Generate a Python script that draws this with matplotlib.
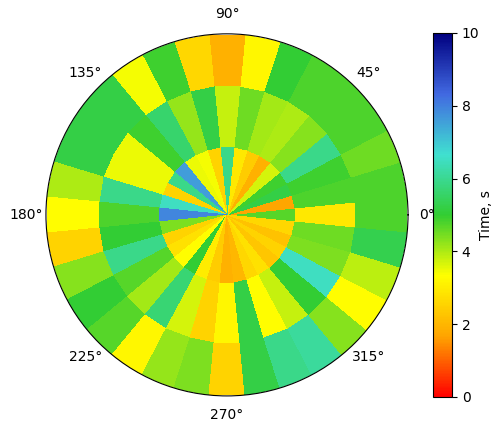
import numpy as np
import matplotlib
matplotlib.use("Agg")
import matplotlib.pyplot as plt
from matplotlib.colors import LinearSegmentedColormap

# 32 sectors, centred on multiples of 11.25 deg, counter-clockwise from 0 deg
n_sectors = 32
ring_edges = [0.0, 0.376, 0.713, 1.0]

inner = [4.7, 1.7, 5.2, 4.9, 3.7, 1.9, 2.4, 2.9, 5.9, 2.5, 3.4, 3.5, 7.6, 5.9, 2.5, 6.5,
         7.9, 4.4, 2.5, 2.8, 3.3, 5.0, 3.0, 2.4, 1.9, 2.0, 2.6, 2.8, 2.3, 2.5, 2.2, 2.6]
middle = [2.9, 4.8, 4.9, 5.9, 4.3, 4.0, 4.1, 4.5, 3.8, 5.2, 4.2, 5.6, 4.9, 3.5, 3.5, 5.9,
          4.8, 5.0, 5.9, 4.7, 4.1, 5.7, 3.7, 2.5, 3.2, 5.2, 3.3, 3.8, 5.0, 6.5, 4.4, 4.5]
outer = [4.8, 4.8, 4.5, 4.8, 4.8, 4.8, 5.0, 3.2, 1.9, 2.6, 4.9, 3.4, 5.2, 5.2, 5.2, 4.0,
         3.3, 2.5, 4.3, 5.0, 4.7, 3.2, 4.2, 4.4, 2.5, 5.2, 5.9, 6.1, 4.3, 3.3, 3.9, 5.3]

cmap = LinearSegmentedColormap.from_list(
    "time", ["red", "orange", "yellow", "limegreen", "turquoise", "royalblue", "navy"])

step = 2 * np.pi / n_sectors
theta_edges = (np.arange(n_sectors + 1) - 0.5) * step
values = np.array([inner, middle, outer])

fig = plt.figure(figsize=(4.94, 4.23), dpi=100)
ax = fig.add_axes([0.093, 0.064, 0.733, 0.856], projection="polar")
mesh = ax.pcolormesh(theta_edges, ring_edges, values, cmap=cmap, vmin=0, vmax=10,
                     shading="flat", antialiased=False, edgecolors="none")
ax.set_ylim(0, 1)
ax.set_yticklabels([])
ax.grid(False)
ax.set_thetagrids(np.arange(0, 360, 45), [f"{a}°" for a in range(0, 360, 45)])

cax = fig.add_axes([0.8765, 0.0615, 0.0385, 0.8605])
cb = fig.colorbar(mesh, cax=cax)
cb.set_label("Time, s", labelpad=0)

fig.savefig("out.png", dpi=100)
